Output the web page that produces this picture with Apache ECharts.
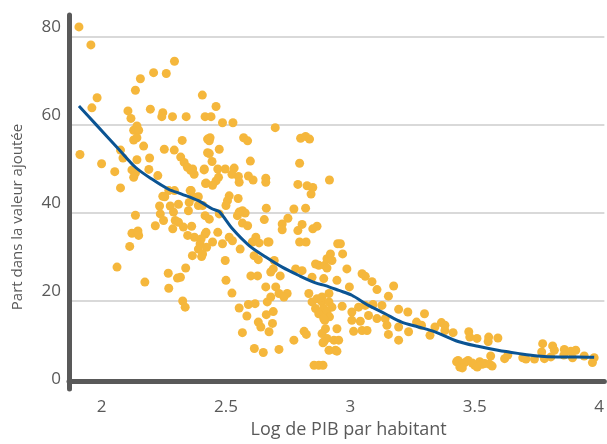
<!DOCTYPE html>
<html>
<head>
<meta charset="utf-8">
<script src="https://cdn.jsdelivr.net/npm/echarts@6/dist/echarts.min.js"></script>
<style>html,body{margin:0;padding:0;background:#fff}#c{width:607px;height:444px}</style>
</head>
<body>
<div id="c"></div>
<script>
const xTickValues = [2, 2.5, 3, 3.5, 4];
const yTickValues = [0, 20, 40, 60, 80];
const xAxisTitle = 'Log de PIB par habitant';
const yAxisTitle = 'Part dans la valeur ajoutée';

const scatterX = [
1.909,1.957,1.982,1.961,1.913,2.0,2.053,2.076,2.136,2.156,2.209,2.26,2.293,2.106,2.118,2.142,2.129,2.149,2.129,2.142,
2.169,2.076,2.086,2.142,2.193,2.122,2.136,2.129,2.19,2.226,2.196,2.246,2.242,2.285,2.34,2.416,2.405,2.324,2.252,2.292,
2.318,2.332,2.345,2.358,2.372,2.412,2.418,2.356,2.293,2.27,2.254,2.389,2.426,2.426,
2.46,2.44,2.486,2.528,2.698,2.436,2.433,2.571,2.587,2.473,2.433,2.444,2.598,2.413,2.467,2.497,2.533,2.524,2.55,2.59,
2.609,2.553,2.66,2.66,2.47,2.46,2.42,2.446,2.796,2.8,2.82,2.836,2.789,2.826,2.849,2.842,2.916,2.662,2.654,2.726,
2.749,2.726,2.773,2.82,2.806,2.789,2.866,2.849,2.796,2.822,2.949,2.513,2.549,2.506,2.566,2.577,2.546,2.566,2.587,2.62,
2.668,2.633,2.382,2.366,2.36,
2.136,2.122,2.146,2.149,2.113,2.062,2.174,2.268,2.27,2.305,2.317,2.338,2.326,2.336,2.216,2.233,2.236,2.249,2.246,2.276,
2.309,2.289,2.296,2.286,2.309,2.349,2.352,2.369,2.389,2.329,2.362,2.346,2.373,2.396,2.389,2.365,2.402,2.416,2.416,2.422,
2.406,2.433,2.473,2.5,2.553,2.42,2.467,2.513,2.4,2.446,2.486,2.526,2.557,2.406,2.606,2.673,2.613,2.63,2.497,2.6,
2.627,2.69,2.68,2.718,2.5,2.524,2.66,2.7,2.713,2.746,2.733,2.68,2.666,2.59,2.617,2.553,2.69,2.662,2.584,2.63,
2.64,2.687,2.673,2.566,2.614,2.65,2.713,2.773,2.814,2.823,2.854,2.873,2.89,2.833,2.846,2.866,2.886,2.86,2.893,2.906,
2.873,2.916,2.897,2.886,2.906,2.89,2.914,2.94,2.934,2.873,2.897,2.906,2.92,2.926,2.893,2.946,2.846,2.86,2.914,2.78,
2.806,2.694,
2.96,2.969,2.906,2.986,2.996,3.047,3.06,3.087,3.107,3.174,3.153,2.967,3.006,3.033,3.06,3.091,3.127,3.194,3.231,3.298,
3.006,3.04,3.073,3.107,3.14,3.147,3.194,3.013,3.047,3.067,3.153,3.194,3.234,3.266,3.286,3.32,3.34,3.366,3.38,3.413,
2.886,2.914,2.926,2.893,2.9,2.893,2.953,2.946,2.946,3.427,
3.38,3.476,3.48,3.509,3.556,3.554,3.593,3.433,3.447,3.473,3.5,3.52,3.54,3.564,3.56,3.62,3.633,3.693,3.706,3.74,
3.773,3.769,3.78,3.813,3.82,3.806,3.86,3.858,3.886,3.906,3.893,3.94,3.98,3.973,3.44,3.46,3.49,3.51,3.53,3.57,3.45
];
const scatterY = [
82.3,78.2,66.2,63.9,53.3,51.2,49.4,45.7,67.9,70.5,71.9,71.7,74.5,63.2,61.5,59.8,58.8,58.8,56.6,57.1,
55.2,54.3,52.5,52.1,52.5,49.8,49.1,48.1,49.9,48.5,63.6,62.8,61.9,61.9,61.9,61.9,66.8,56.5,54.5,54.3,
52.7,51.5,50.4,49.7,48.8,49.8,46.7,45.1,45.1,45.1,43.7,43.7,56.8,53.7,
64.2,61.9,60.5,60.5,59.4,57.1,56.4,57.1,56.4,54.5,53.5,51.7,51.8,50.0,50.0,50.0,50.2,48.8,48.3,48.4,
47.5,47.0,47.9,47.0,48.1,47.3,46.8,46.3,51.3,57.0,57.4,56.8,46.5,46.2,45.8,44.3,47.5,41.1,38.5,37.5,
38.8,36.2,40.9,41.1,37.4,36.0,37.0,36.4,33.4,33.4,33.0,43.9,43.3,42.8,40.5,40.0,39.4,37.7,37.1,34.5,
33.4,33.2,43.6,50.0,45.1,
39.5,35.4,35.9,34.9,32.4,27.7,24.3,26.3,22.9,25.2,25.4,27.5,20.0,18.6,37.1,41.6,39.8,38.3,43.8,41.6,
42.0,40.2,38.3,36.4,37.9,40.5,42.4,43.6,41.7,36.8,37.0,34.9,34.5,33.0,31.8,30.3,30.1,39.4,35.2,32.2,
41.7,38.6,39.8,41.7,40.2,35.6,35.6,34.5,34.1,33.4,33.0,33.7,31.8,30.7,33.4,33.4,30.3,29.4,29.2,25.7,
25.7,27.3,26.6,25.7,24.7,21.8,23.2,23.2,21.7,21.7,20.9,20.9,19.8,19.2,19.4,18.4,17.6,16.9,16.6,15.2,
14.1,14.9,13.0,12.8,9.2,8.3,9.0,11.1,13.1,12.4,5.4,5.4,5.4,21.7,19.8,20.5,19.8,18.3,18.3,17.5,
17.1,16.4,15.6,12.6,11.5,10.5,8.8,8.8,11.1,28.1,28.1,29.6,30.7,29.2,25.1,24.7,25.4,28.4,21.7,27.3,
26.9,29.2,
33.0,30.7,27.5,27.3,23.2,26.2,25.6,24.4,22.6,23.4,21.1,18.8,17.5,18.6,19.0,19.2,19.0,18.1,17.5,17.1,
15.6,15.4,16.7,16.0,16.0,14.5,14.1,13.1,13.3,13.3,12.4,11.1,13.0,15.2,14.5,12.2,14.1,15.1,13.3,12.8,
20.9,19.8,18.6,16.0,13.7,10.7,11.1,13.7,8.6,6.2,
14.5,13.0,11.8,11.5,11.8,10.8,11.6,6.5,5.4,6.5,5.4,6.2,5.8,7.5,5.6,6.9,7.7,7.1,6.8,6.8,
10.3,8.4,6.9,9.8,8.8,7.3,9.0,7.7,8.6,8.8,7.1,7.5,7.1,6.0,5.0,6.0,5.9,5.0,5.6,5.2,4.8
];

const trendX = [1.909,1.976,2.069,2.136,2.202,2.269,2.322,2.389,2.446,2.473,2.526,2.593,2.66,2.726,2.793,2.86,2.9,2.954,3.006,3.073,3.14,3.206,3.273,3.34,3.433,3.513,3.593,3.673,3.753,3.833,3.913,3.98];
const trendY = [64.3,60.2,54.5,50.4,47.7,45.4,44.3,42.8,40.9,40.3,36.4,32.6,30.0,27.7,25.8,24.1,23.5,22.4,21.3,19.0,17.1,15.2,14.1,13.0,10.8,9.7,8.8,8.1,7.5,7.3,7.3,7.2];

const scatterData = scatterX.map((x, i) => [x, scatterY[i]]);
const trendData = trendX.map((x, i) => [x, trendY[i]]);

const textColor = '#595959';
const font = 'Open Sans';
const chart = echarts.init(document.getElementById('c'), null, {renderer: 'canvas'});
chart.setOption({
  animation: false,
  grid: {left: 69, right: 0, top: 15, bottom: 53.4, containLabel: false},
  xAxis: {
    type: 'value', min: 1.869, max: 4.021, offset: -8,
    name: xAxisTitle, nameLocation: 'middle', nameGap: 40,
    nameTextStyle: {color: textColor, fontSize: 18, fontFamily: font, padding: [0, 0, 0, 24]},
    axisLine: {show: true, lineStyle: {color: '#595959', width: 5}},
    axisTick: {show: false},
    axisLabel: {customValues: xTickValues, color: textColor, fontSize: 17, fontFamily: font, margin: 18},
    splitLine: {show: false}
  },
  yAxis: {
    type: 'value', min: 0, max: 85, interval: 20,
    name: yAxisTitle, nameLocation: 'middle', nameGap: 44,
    nameTextStyle: {color: textColor, fontSize: 15, fontFamily: font, padding: [0, 30, 0, 0]},
    axisLine: {show: true, lineStyle: {color: '#595959', width: 5}},
    axisTick: {show: false},
    axisLabel: {customValues: yTickValues, color: textColor, fontSize: 17, fontFamily: font, margin: 8, verticalAlign: 'bottom', lineHeight: 20},
    splitLine: {show: true, showMinLine: false, showMaxLine: false, lineStyle: {color: '#cccccc', width: 1.5}}
  },
  series: [
    {type: 'scatter', data: scatterData, symbolSize: 9, itemStyle: {color: '#F5B73C', opacity: 1}, z: 2},
    {type: 'line', data: trendData, showSymbol: false, smooth: 0.3, lineStyle: {color: '#0B5493', width: 3}, z: 3}
  ]
});
</script>
</body>
</html>
